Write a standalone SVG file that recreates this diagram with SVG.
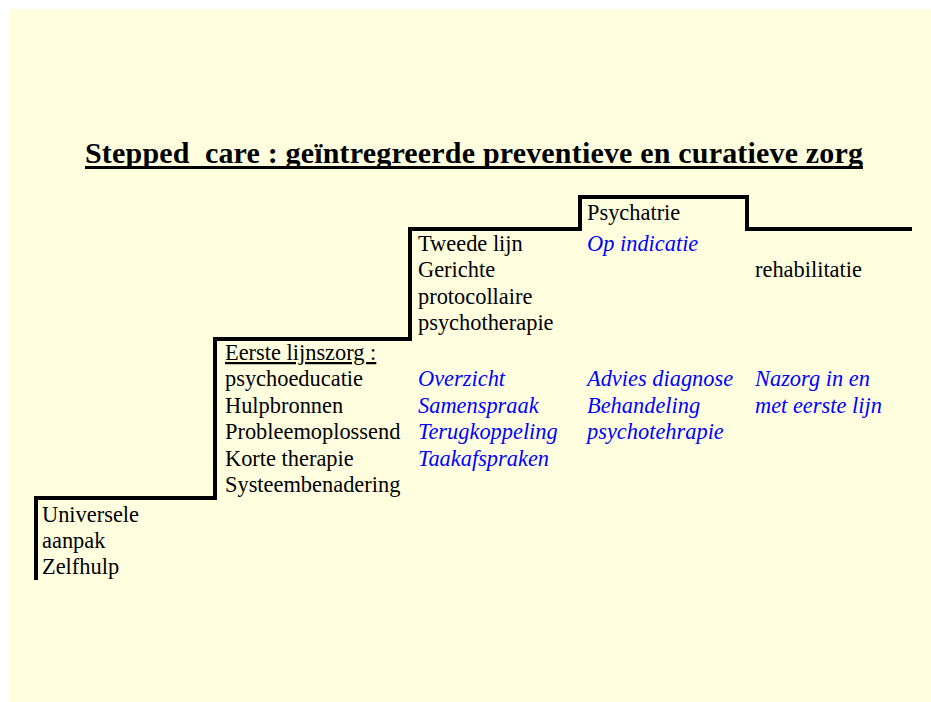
<svg xmlns="http://www.w3.org/2000/svg" width="931" height="702" viewBox="0 0 931 702">
<style>
.t{font-family:"Liberation Serif","Times New Roman",serif;font-size:22.4px;fill:#000}
.b{font-family:"Liberation Serif","Times New Roman",serif;font-size:22.4px;font-style:italic;fill:#0000FF}
.title{font-family:"Liberation Serif","Times New Roman",serif;font-size:30px;font-weight:bold;fill:#000}
.stair{fill:none;stroke:#000;stroke-width:4;stroke-linejoin:miter;stroke-linecap:butt}
</style>
<rect x="10" y="9" width="921" height="693" fill="#FFFFE0"/>
<g id="title">
<text class="title" x="85" y="163" xml:space="preserve" textLength="778" lengthAdjust="spacing">Stepped  care : geïntregreerde preventieve en curatieve zorg</text>
<line x1="85" y1="167.5" x2="863" y2="167.5" stroke="#000" stroke-width="3"/>
</g>
<g id="connectors">
<path class="stair" d="M36,580 V498 H215 V339 H410 V229 H580 V197 H747 V229 H912"/>
</g>
<g id="step-universeel">
<text class="t" x="42" y="522">Universele</text>
<text class="t" x="42" y="548">aanpak</text>
<text class="t" x="42" y="574">Zelfhulp</text>
</g>
<g id="step-eerste-lijn">
<text class="t" x="225" y="360" text-decoration="underline">Eerste lijnszorg :</text>
<text class="t" x="225" y="386">psychoeducatie</text>
<text class="t" x="225" y="412.5">Hulpbronnen</text>
<text class="t" x="225" y="439">Probleemoplossend</text>
<text class="t" x="225" y="465.5">Korte therapie</text>
<text class="t" x="225" y="492">Systeembenadering</text>
</g>
<g id="step-tweede-lijn">
<text class="t" x="418" y="250.5">Tweede lijn</text>
<text class="t" x="418" y="277">Gerichte</text>
<text class="t" x="418" y="303.5">protocollaire</text>
<text class="t" x="418" y="330">psychotherapie</text>
</g>
<g id="tweede-lijn-samenwerking">
<text class="b" x="418" y="386">Overzicht</text>
<text class="b" x="418" y="412.5">Samenspraak</text>
<text class="b" x="418" y="439">Terugkoppeling</text>
<text class="b" x="418" y="465.5">Taakafspraken</text>
</g>
<g id="step-psychiatrie">
<text class="t" x="587" y="220">Psychatrie</text>
<text class="b" x="587" y="250.5">Op indicatie</text>
</g>
<g id="psychiatrie-taken">
<text class="b" x="587" y="386">Advies diagnose</text>
<text class="b" x="587" y="412.5">Behandeling</text>
<text class="b" x="587" y="439">psychotehrapie</text>
</g>
<g id="step-rehabilitatie">
<text class="t" x="755" y="277">rehabilitatie</text>
</g>
<g id="nazorg">
<text class="b" x="755" y="386">Nazorg in en</text>
<text class="b" x="755" y="412.5">met eerste lijn</text>
</g>
</svg>
